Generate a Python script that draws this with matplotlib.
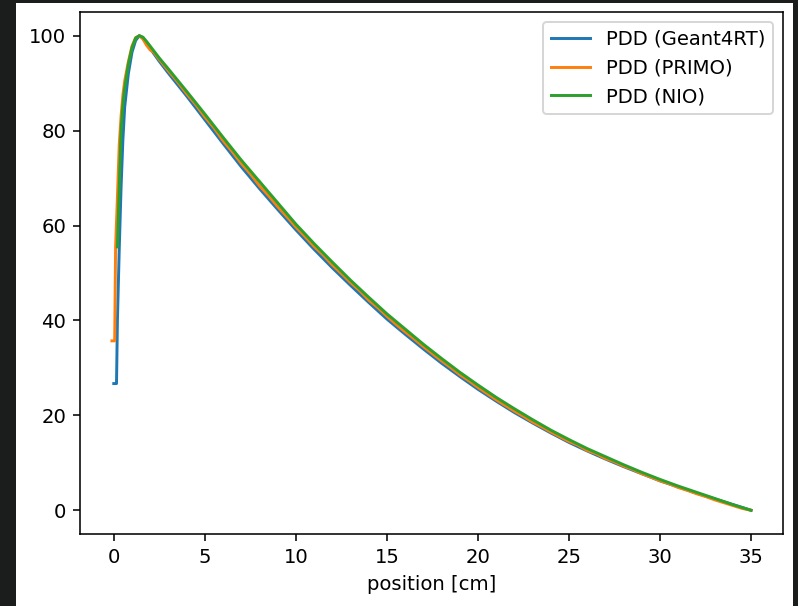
import matplotlib
matplotlib.use("Agg")
import matplotlib.pyplot as plt
from matplotlib.patches import Rectangle

# Geant4RT
x_g4 = [0.0, 0.15, 0.2, 0.3, 0.4, 0.5, 0.6, 0.8, 1.0, 1.2, 1.4, 1.6, 1.8, 2.0, 2.5, 3,
        4, 5, 6, 7, 8, 9, 10, 11, 12, 13, 14, 15, 16, 17, 18, 19, 20, 21, 22, 23, 24,
        25, 26, 27, 28, 29, 30, 31, 32, 33, 34, 35]
y_g4 = [26.7, 26.7, 40, 55, 68, 78, 85, 92, 96.5, 99, 100, 99.6, 98.5, 97.3, 94.6, 92.1,
        87.3, 82.3, 77.3, 72.4, 67.8, 63.4, 59.1, 55.0, 51.1, 47.4, 43.8, 40.3, 37.1, 34.0,
        31.0, 28.2, 25.5, 23.0, 20.6, 18.4, 16.3, 14.3, 12.5, 10.8, 9.2, 7.7, 6.2, 4.9, 3.6,
        2.4, 1.2, 0.0]

# PRIMO
x_pr = [-0.1, 0.05, 0.1, 0.2, 0.3, 0.4, 0.5, 0.6, 0.8, 1.0, 1.2, 1.4, 1.6, 1.8, 2.0, 2.2,
        2.5, 3, 3.5, 4, 4.5, 5, 5.5, 6, 6.5, 7, 7.5, 8, 8.5, 9, 9.5, 10, 10.5, 11, 11.5, 12,
        12.5, 13, 13.5, 14, 14.5, 15, 15.5, 16, 16.5, 17, 17.5, 18, 18.5, 19, 19.5, 20, 20.5,
        21, 21.5, 22, 22.5, 23, 23.5, 24, 24.5, 25, 25.5, 26, 26.5, 27, 27.5, 28, 28.5, 29,
        29.5, 30, 30.5, 31, 31.5, 32, 32.5, 33, 33.5, 34, 34.5, 35]
y_pr = [35.7, 35.7, 55.5, 66, 77, 83, 87.5, 90.5, 94.5, 97.8, 99.6, 100, 99.3, 98.0, 97.0,
        96.5, 95.0, 92.6, 90.3, 87.8, 85.5, 82.9, 80.6, 77.9, 75.6, 73.1, 70.9, 68.4, 66.3,
        64.0, 61.9, 59.7, 57.7, 55.6, 53.8, 51.7, 49.9, 48.0, 46.3, 44.3, 42.7, 40.9, 39.2,
        37.6, 36.1, 34.5, 33.0, 31.5, 30.1, 28.6, 27.3, 25.9, 24.6, 23.3, 22.1, 20.9, 19.8,
        18.6, 17.6, 16.5, 15.5, 14.5, 13.7, 12.6, 11.9, 10.9, 10.2, 9.3, 8.6, 7.7, 7.0, 6.2,
        5.6, 4.8, 4.2, 3.5, 2.9, 2.2, 1.6, 1.0, 0.4, 0.0]

# NIO
x_nio = [0.2, 0.3, 0.4, 0.5, 0.6, 0.8, 1.0, 1.2, 1.4, 1.6, 1.8, 2.0, 2.5, 3, 4, 5, 6, 7,
         8, 9, 10, 11, 12, 13, 14, 15, 16, 17, 18, 19, 20, 21, 22, 23, 24, 25, 26, 27, 28,
         29, 30, 31, 32, 33, 34, 35]
y_nio = [55.5, 68, 80, 85.5, 89, 94, 97.5, 99.5, 100, 99.7, 98.8, 97.8, 95.3, 93, 88.3,
         83.5, 78.6, 73.8, 69.3, 64.8, 60.3, 56.2, 52.3, 48.5, 44.9, 41.4, 38.2, 35.0, 32.0,
         29.1, 26.4, 23.8, 21.4, 19.1, 16.9, 14.9, 13.0, 11.3, 9.6, 8.0, 6.5, 5.1, 3.8, 2.5,
         1.2, 0.0]

labels = ["PDD (Geant4RT)", "PDD (PRIMO)", "PDD (NIO)"]
xlabel = "position [cm]"

DPI = 141
fig = plt.figure(figsize=(798 / DPI, 606 / DPI), dpi=DPI, facecolor="#1b1c1c")
fig.patches.append(Rectangle((16 / 798, 0), (793 - 16) / 798, (606 - 3) / 606,
                             transform=fig.transFigure, facecolor="white",
                             edgecolor="none", zorder=-1))
ax = fig.add_axes([80 / 798, (606 - 534) / 606, (783 - 80) / 798, (534 - 12) / 606])
ax.plot(x_g4, y_g4, label=labels[0])
ax.plot(x_pr, y_pr, label=labels[1])
ax.plot(x_nio, y_nio, label=labels[2])
ax.set_xlabel(xlabel)
ax.legend(loc="upper right")
fig.savefig("out.png", dpi=DPI, facecolor=fig.get_facecolor())
